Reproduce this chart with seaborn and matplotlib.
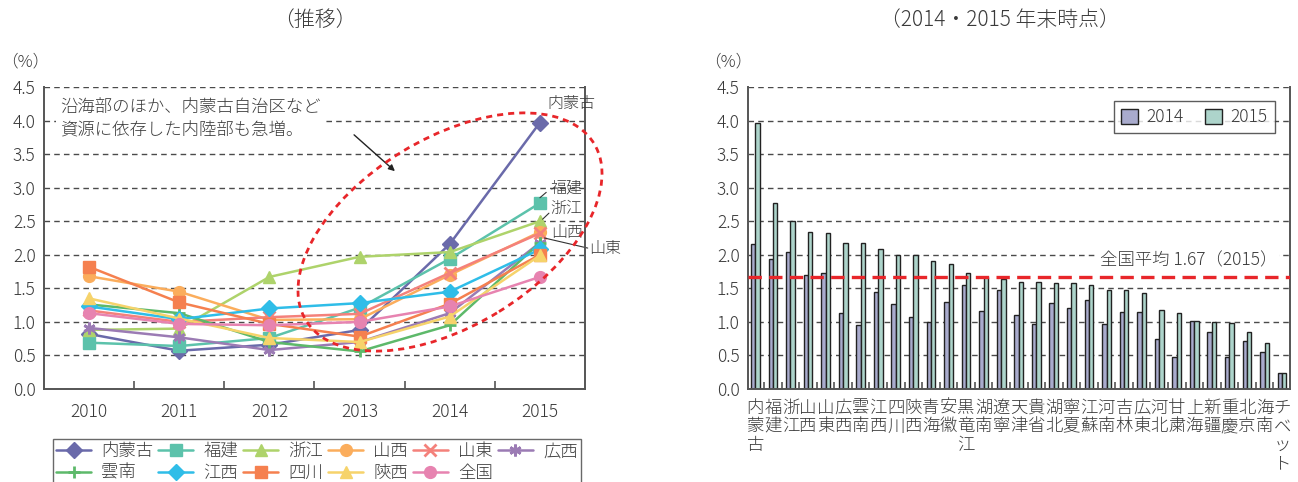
import matplotlib
matplotlib.use("Agg")
import matplotlib.pyplot as plt
from matplotlib.patches import Ellipse
from matplotlib.transforms import IdentityTransform
from matplotlib.ticker import FixedLocator
import seaborn as sns
import pandas as pd

sns.set_theme(style="white")
plt.rcParams["font.family"] = ["Noto Sans CJK JP", "DejaVu Sans"]
plt.rcParams["font.weight"] = "light"

TEXT = "#3a3a3a"
GRID = "#4a4a4a"

# ---- left panel: yearly trend ----
years = ["2010", "2011", "2012", "2013", "2014", "2015"]
regions = ["内蒙古", "福建", "浙江", "山西", "山東", "広西",
           "雲南", "江西", "四川", "陝西", "全国"]
nei_menggu = [0.82, 0.57, 0.66, 0.88, 2.16, 3.97]
fujian     = [0.69, 0.64, 0.76, 1.21, 1.94, 2.77]
zhejiang   = [0.88, 0.90, 1.67, 1.97, 2.04, 2.50]
shanxi     = [1.68, 1.45, 1.03, 1.04, 1.70, 2.34]
shandong   = [1.17, 1.00, 1.07, 1.12, 1.73, 2.32]
guangxi    = [0.91, 0.77, 0.58, 0.70, 1.13, 2.18]
yunnan     = [1.26, 1.13, 0.70, 0.56, 0.95, 2.18]
jiangxi    = [1.23, 1.04, 1.20, 1.28, 1.45, 2.08]
sichuan    = [1.82, 1.29, 0.97, 0.78, 1.27, 2.00]
shaanxi    = [1.35, 1.05, 0.76, 0.70, 1.08, 1.99]
national   = [1.13, 0.97, 0.95, 1.00, 1.23, 1.67]
series = [nei_menggu, fujian, zhejiang, shanxi, shandong, guangxi,
          yunnan, jiangxi, sichuan, shaanxi, national]

colors = ["#6a6aaa", "#5cc2ab", "#aed36b", "#fbad5c", "#f4817b", "#9b7bb4",
          "#5db96a", "#2fbde8", "#f5804f", "#f6d36b", "#e783b0"]
markers = ["D", "s", "^", "o", "x", (6, 2, 0),
           "+", "D", "s", "^", "o"]

# ---- right panel: 2014 / 2015 by province ----
provinces = ["内蒙古", "福建", "浙江", "山西", "山東", "広西", "雲南", "江西",
             "四川", "陝西", "青海", "安徽", "黒竜江", "湖南", "遼寧", "天津",
             "貴省", "湖北", "寧夏", "江蘇", "河南", "吉林", "広東", "河北",
             "甘粛", "上海", "新疆", "重慶", "北京", "海南", "チベット"]
vals_2014 = [2.16, 1.94, 2.04, 1.70, 1.73, 1.13, 0.95, 1.45, 1.27, 1.08,
             1.00, 1.30, 1.55, 1.16, 1.47, 1.11, 0.97, 1.28, 1.21, 1.32,
             0.97, 1.14, 1.15, 0.75, 0.48, 1.02, 0.85, 0.47, 0.72, 0.55, 0.24]
vals_2015 = [3.97, 2.77, 2.50, 2.34, 2.32, 2.18, 2.18, 2.08, 2.00, 1.99,
             1.91, 1.86, 1.73, 1.67, 1.64, 1.60, 1.60, 1.58, 1.58, 1.55,
             1.48, 1.48, 1.43, 1.18, 1.13, 1.01, 1.00, 0.99, 0.85, 0.69, 0.24]
national_avg_2015 = 1.67
bar_years = ["2014", "2015"]
bar_colors = ["#a3a5d3", "#a6dbcf"]

W, H = 1298, 482
fig = plt.figure(figsize=(W / 100, H / 100), dpi=100)
ax1 = fig.add_axes([44 / W, 1 - 389 / H, (585 - 44) / W, (389 - 87) / H])
ax2 = fig.add_axes([748 / W, 1 - 389 / H, (1290 - 748) / W, (389 - 87) / H])


def style_axes(ax):
    ax.set_ylim(0, 4.5)
    ax.set_yticks([i * 0.5 for i in range(10)])
    ax.set_yticklabels([f"{i * 0.5:.1f}" for i in range(10)])
    ax.yaxis.grid(True, color=GRID, linestyle=(0, (4, 3)), linewidth=1.0)
    ax.xaxis.grid(False)
    ax.set_axisbelow(True)
    for s in ["left", "bottom", "right"]:
        ax.spines[s].set_color("#555555")
        ax.spines[s].set_linewidth(1.4)
    ax.spines["top"].set_visible(False)
    ax.tick_params(axis="y", length=0, pad=6, labelsize=12.5, labelcolor=TEXT)
    ax.tick_params(axis="x", which="major", length=0, labelcolor=TEXT)
    ax.tick_params(axis="x", which="minor", length=6, direction="in",
                   color="#555555", width=1.2, bottom=True)
    ax.set_xlabel("")
    ax.set_ylabel("")


# left panel lines
xpos = list(range(len(years)))
handles = []
for name, vals, c, m in zip(regions, series, colors, markers):
    sns.lineplot(x=xpos, y=vals, ax=ax1, color=c, linewidth=1.8,
                 marker=m, markersize=8.5, markeredgecolor=c,
                 markeredgewidth=2.0 if m in ("x", "+", (6, 2, 0)) else 1.0,
                 label=name, legend=False)
    handles.append(ax1.lines[-1])

style_axes(ax1)
ax1.set_xlim(-0.5, 5.5)
ax1.set_xticks(xpos)
ax1.set_xticklabels(years)
ax1.xaxis.set_minor_locator(FixedLocator([i + 0.5 for i in range(5)]))
ax1.tick_params(axis="x", which="major", pad=10, labelsize=12.5)

ax1.text(0.03, 0.965, "沿海部のほか、内蒙古自治区など\n資源に依存した内陸部も急増。",
         transform=ax1.transAxes, ha="left", va="top", fontsize=12.5,
         color=TEXT, linespacing=1.45,
         bbox=dict(facecolor="white", edgecolor="none", pad=3))
ax1.annotate("", xy=(397, H - 173), xytext=(352, H - 133),
             xycoords=IdentityTransform(), textcoords=IdentityTransform(),
             arrowprops=dict(arrowstyle="-|>", color="#222222", lw=1.0,
                             mutation_scale=9))
ell = Ellipse((450, H - 232), 338, 187, angle=31.6, transform=IdentityTransform(),
              fill=False, edgecolor="#e8262a", linestyle=(0, (2.2, 1.8)),
              linewidth=2.0, clip_on=False)
fig.add_artist(ell)

# series name callouts at 2015
lab_kw = dict(fontsize=11.5, color=TEXT, ha="left", va="center")
ax1.text(5.08, 4.25, "内蒙古", **lab_kw)
ax1.text(5.12, 3.00, "福建", **lab_kw)
ax1.text(5.12, 2.69, "浙江", **lab_kw)
ax1.text(5.12, 2.33, "山西", **lab_kw)
ax1.text(5.55, 2.10, "山東", clip_on=False, **lab_kw)
ax1.plot([5.0, 5.07], [2.85, 2.93], color="#333333", lw=0.8)
ax1.plot([5.03, 5.10], [2.53, 2.62], color="#333333", lw=0.8)
ax1.plot([5.05, 5.53], [2.25, 2.10], color="#333333", lw=0.8, clip_on=False)

# legend filled row by row (matplotlib fills columns first)
ncol = 6
nrow = 2
order = [r * ncol + c for c in range(ncol) for r in range(nrow)
         if r * ncol + c < len(regions)]
fig.legend([handles[i] for i in order], [regions[i] for i in order],
           ncol=ncol, loc="upper left",
           bbox_to_anchor=(44 / W, -0.2, (590 - 44) / W, 1.2 - 430 / H),
           mode="expand", frameon=True, fancybox=False, edgecolor="#444444",
           fontsize=12.5, handlelength=2.0, handletextpad=0.6,
           borderpad=0.2, labelspacing=0.2, labelcolor=TEXT)

# right panel bars
df = pd.DataFrame({
    "province": provinces * 2,
    "year": [bar_years[0]] * len(provinces) + [bar_years[1]] * len(provinces),
    "value": vals_2014 + vals_2015,
})
sns.barplot(data=df, x="province", y="value", hue="year", order=provinces,
            hue_order=bar_years, palette=bar_colors, width=0.5, dodge=True,
            edgecolor="#222222", linewidth=1.0, errorbar=None, ax=ax2)
style_axes(ax2)
ax2.set_xlim(-0.42, len(provinces) - 0.55)
ax2.set_xticks(range(len(provinces)))
ax2.set_xticklabels(["\n".join(p) for p in provinces], linespacing=1.05,
                    fontsize=12.5)
ax2.xaxis.set_minor_locator(FixedLocator([i + 0.5 for i in range(len(provinces) - 1)]))
ax2.tick_params(axis="x", which="major", pad=7)
ax2.tick_params(axis="x", which="minor", length=5)

ax2.axhline(national_avg_2015, color="#e8262a", linestyle=(0, (4, 2.2)),
            linewidth=2.4, zorder=3)
ax2.text(0.976, 1.91, f"全国平均 {national_avg_2015:.2f}（2015）",
         transform=ax2.get_yaxis_transform(), ha="right", va="center",
         fontsize=12.5, color=TEXT,
         bbox=dict(facecolor="white", edgecolor="none", pad=1.5))
leg = ax2.legend(loc="upper right", bbox_to_anchor=(0.972, 0.952),
                 borderaxespad=0, frameon=True, fancybox=False,
                 edgecolor="#333333", fontsize=12.5, ncol=2,
                 handlelength=1.0, handleheight=1.0, columnspacing=1.2,
                 handletextpad=0.5, borderpad=0.4, labelcolor=TEXT)
leg.get_frame().set_linewidth(1.0)

# titles and unit labels
fig.text(315 / W, 1 - 20 / H, "（推移）", ha="center", va="center",
         fontsize=15, color=TEXT)
fig.text(1000 / W, 1 - 20 / H, "（2014・2015 年末時点）", ha="center",
         va="center", fontsize=15, color=TEXT)
fig.text(25 / W, 1 - 62 / H, "（%）", ha="center", va="center",
         fontsize=12, color=TEXT)
fig.text(728 / W, 1 - 62 / H, "（%）", ha="center", va="center",
         fontsize=12, color=TEXT)

fig.savefig("out.png", dpi=100)
